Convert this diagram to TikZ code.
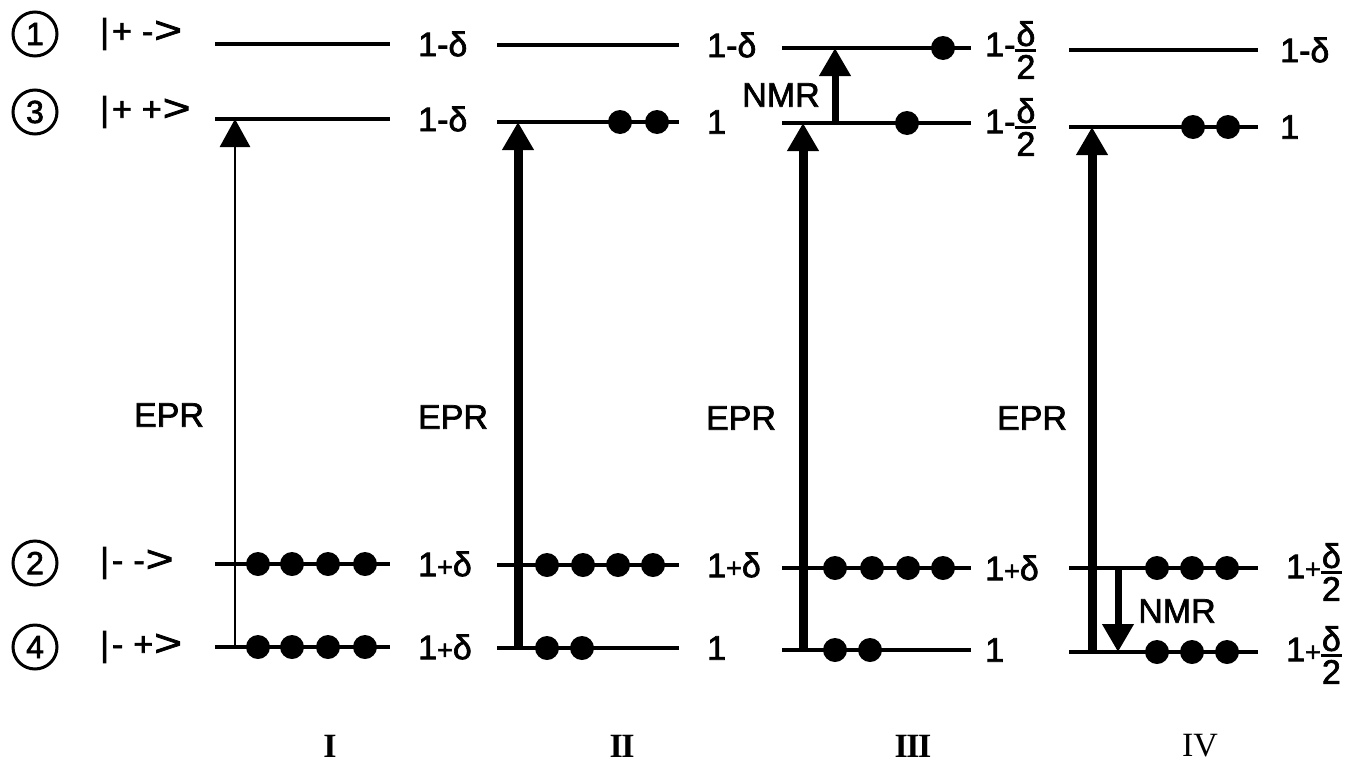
\documentclass[tikz,border=0pt]{standalone}
\usepackage{fontspec}
\setmainfont{Liberation Sans}[FakeBold=2]
\newfontfamily\romanfont{Liberation Serif}
\usetikzlibrary{arrows.meta}

% delta over 2, stacked with a heavy bar, centred on the math axis
\newcommand\fracfont{\fontsize{34}{34}\selectfont}
\newcommand\halfd{$\vcenter{\offinterlineskip\halign{\hfil\fracfont##\hfil\cr
  δ\cr\noalign{\kern3pt}\rule{21pt}{2.8pt}\cr\noalign{\kern3pt}2\cr}}$}
\newcommand\splus{{\fontsize{27}{27}\selectfont +}}
\newcommand\ketgt{\scalebox{1.4}[1.1]{>}}
\newcommand\ketlabel[2]{|\kern3pt#1\kern10pt#2\kern1pt\ketgt}

\begin{document}
\begin{tikzpicture}[x=1pt,y=-1pt,
  level/.style={line width=4.5pt},
  lbl/.style={font=\fontsize{34}{40}\selectfont, inner sep=0pt},
  val/.style={lbl, anchor=west},
  num/.style={circle, draw, line width=3pt, minimum size=44pt, inner sep=0pt,
              font=\fontsize{32}{32}\selectfont},
  eprthin/.style={line width=2.8pt, -{Triangle[width=30pt,length=28pt]}},
  eprthick/.style={line width=9pt, -{Triangle[width=30pt,length=28pt]}},
  nmr/.style={line width=7pt, -{Triangle[width=30pt,length=28pt]}},
  roman/.style={font=\romanfont\fontsize{34}{38}\selectfont, inner sep=0pt}
]
\useasboundingbox (0,0) rectangle (1347,763);

% ---------- state labels on the left ----------
\node[num] (n1) at (35,34) {1};
\node[num] (n3) at (35,112) {3};
\node[num] (n2) at (35,563) {2};
\node[num] (n4) at (35,647) {4};
\node[val] (k1) at (100,34)  {\ketlabel{+}{-}};
\node[val] (k3) at (100,112) {\ketlabel{+}{+}};
\node[val] (k2) at (100,563) {\ketlabel{-}{-}};
\node[val] (k4) at (100,647) {\ketlabel{-}{+}};

% ---------- column I ----------
\coordinate (Ia1) at (215,44);  \coordinate (Ib1) at (390,44);
\coordinate (Ia3) at (215,119); \coordinate (Ib3) at (390,119);
\coordinate (Ia2) at (215,564); \coordinate (Ib2) at (390,564);
\coordinate (Ia4) at (215,647); \coordinate (Ib4) at (390,647);
\foreach \l in {1,3,2,4} \draw[level] (Ia\l) -- (Ib\l);
\coordinate (Ie3) at (235,119); \coordinate (Ie4) at (235,647);
\draw[eprthin] (Ie4) -- (Ie3);
\foreach \x in {258,292,328,365} {
  \fill (\x,564) circle[radius=12pt];
  \fill (\x,647) circle[radius=12pt];
}
\node[val] (Iv1) at (418,44)  {1-δ};
\node[val] (Iv3) at (418,119) {1-δ};
\node[val] (Iv2) at (418,564) {1\splus δ};
\node[val] (Iv4) at (418,647) {1\splus δ};
\node[lbl] (Iepr) at (169,415) {EPR};
\node[roman] (Inum) at (330,746) {\bfseries I};

% ---------- column II ----------
\coordinate (IIa1) at (497,45);  \coordinate (IIb1) at (679,45);
\coordinate (IIa3) at (497,122); \coordinate (IIb3) at (679,122);
\coordinate (IIa2) at (497,565); \coordinate (IIb2) at (679,565);
\coordinate (IIa4) at (497,648); \coordinate (IIb4) at (679,648);
\foreach \l in {1,3,2,4} \draw[level] (IIa\l) -- (IIb\l);
\coordinate (IIe3) at (518,122); \coordinate (IIe4) at (518,648);
\draw[eprthick] (IIe4) -- (IIe3);
\foreach \x in {620,657} \fill (\x,122) circle[radius=12pt];
\foreach \x in {547,583,618,653} \fill (\x,565) circle[radius=12pt];
\foreach \x in {547,582} \fill (\x,648) circle[radius=12pt];
\node[val] (IIv1) at (707,45)  {1-δ};
\node[val] (IIv3) at (707,122) {1};
\node[val] (IIv2) at (707,565) {1\splus δ};
\node[val] (IIv4) at (707,648) {1};
\node[lbl] (IIepr) at (453,417) {EPR};
\node[roman] (IInum) at (622,746) {\bfseries I\kern-1.5pt I};

% ---------- column III ----------
\coordinate (IIIa1) at (782,48);  \coordinate (IIIb1) at (971,48);
\coordinate (IIIa3) at (782,123); \coordinate (IIIb3) at (971,123);
\coordinate (IIIa2) at (782,568); \coordinate (IIIb2) at (971,568);
\coordinate (IIIa4) at (782,650); \coordinate (IIIb4) at (971,650);
\foreach \l in {1,3,2,4} \draw[level] (IIIa\l) -- (IIIb\l);
\coordinate (IIIe3) at (803,123); \coordinate (IIIe4) at (803,650);
\draw[eprthick] (IIIe4) -- (IIIe3);
\coordinate (IIIm3) at (835,123); \coordinate (IIIm1) at (835,48);
\draw[nmr] (IIIm3) -- (IIIm1);
\fill (943,48) circle[radius=12pt];
\fill (907,123) circle[radius=12pt];
\foreach \x in {835,872,908,943} \fill (\x,568) circle[radius=12pt];
\foreach \x in {835,870} \fill (\x,650) circle[radius=12pt];
\node[val] (IIIv1) at (985,50)  {1-\halfd};
\node[val] (IIIv3) at (985,127) {1-\halfd};
\node[val] (IIIv2) at (985,568) {1\splus δ};
\node[val] (IIIv4) at (985,650) {1};
\node[lbl] (IIIepr) at (741,418) {EPR};
\node[lbl] (IIInmr) at (781,95) {NMR};
\node[roman] (IIInum) at (913,746) {\bfseries I\kern-1.5pt I\kern-1.5pt I};

% ---------- column IV ----------
\coordinate (IVa1) at (1069,50);  \coordinate (IVb1) at (1258,50);
\coordinate (IVa3) at (1069,127); \coordinate (IVb3) at (1258,127);
\coordinate (IVa2) at (1069,568); \coordinate (IVb2) at (1258,568);
\coordinate (IVa4) at (1069,652); \coordinate (IVb4) at (1258,652);
\foreach \l in {1,3,2,4} \draw[level] (IVa\l) -- (IVb\l);
\coordinate (IVe3) at (1092,127); \coordinate (IVe4) at (1092,652);
\draw[eprthick] (IVe4) -- (IVe3);
\coordinate (IVm2) at (1118,568); \coordinate (IVm4) at (1118,652);
\draw[nmr] (IVm2) -- (IVm4);
\foreach \x in {1193,1228} \fill (\x,127) circle[radius=12pt];
\foreach \x in {1157,1192,1227} {
  \fill (\x,568) circle[radius=12pt];
  \fill (\x,652) circle[radius=12pt];
}
\node[val] (IVv1) at (1280,50)  {1-δ};
\node[val] (IVv3) at (1280,127) {1};
\node[val] (IVv2) at (1286,572) {1\splus\halfd};
\node[val] (IVv4) at (1286,655) {1\splus\halfd};
\node[lbl] (IVepr) at (1032,418) {EPR};
\node[lbl] (IVnmr) at (1177,611) {NMR};
\node[roman] (IVnum) at (1200,746) {IV};
\end{tikzpicture}
\end{document}
